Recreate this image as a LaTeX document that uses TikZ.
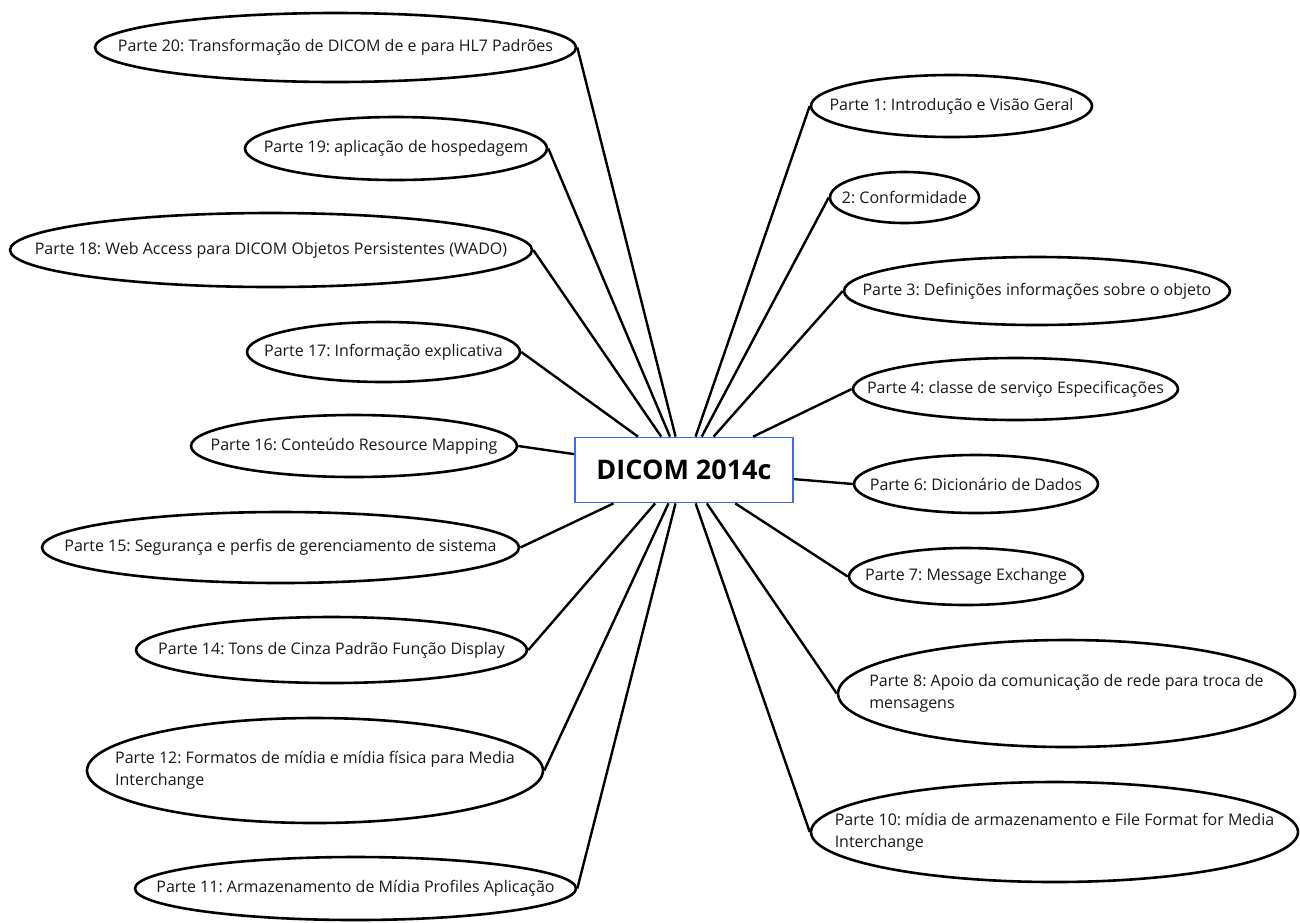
\documentclass[tikz,border=0pt]{standalone}
\usepackage{fontspec}
\setmainfont{Open Sans}
\usetikzlibrary{shapes.geometric}
\definecolor{hubblue}{HTML}{3D6BF5}
\frenchspacing

% one topic: ellipse outline plus its label centred inside it
\newcommand{\topicnode}[7]{%
  \node[topic, minimum width=#4, minimum height=#5] (#1) at (#2,#3) {};
  \node[itemtext] (#6) at (#1.center) {#7};}

\begin{document}
\begin{tikzpicture}[x=1pt,y=-1pt,
  topic/.style={ellipse, draw=black, line width=2.6pt, fill=white, inner sep=0pt},
  itemtext/.style={font=\fontsize{16}{22}\selectfont, align=left, inner sep=0pt, text=black!90},
  link/.style={draw=black, line width=2.4pt},
  hub/.style={draw=hubblue, line width=1.8pt, fill=white, minimum width=218pt,
              minimum height=65pt, inner sep=0pt, font=\fontsize{27}{30}\selectfont\bfseries}]
\useasboundingbox (0,0) rectangle (1300,922);

% centre
\node[hub] (c) at (684,470) {DICOM 2014c};

% left column
\topicnode{e20}{335.5}{47.5}{481}{69}{t20}{Parte 20: Transformação de DICOM de e para HL7 Padrões}
\topicnode{e19}{396}{148.5}{302}{63}{t19}{Parte 19: aplicação de hospedagem}
\topicnode{e18}{271}{250}{522}{74}{t18}{Parte 18: Web Access para DICOM Objetos Persistentes (WADO)}
\topicnode{e17}{383.5}{352}{273}{60}{t17}{Parte 17: Informação explicativa}
\topicnode{e16}{354}{446}{326}{62}{t16}{Parte 16: Conteúdo Resource Mapping}
\topicnode{e15}{280.5}{547.5}{477}{71}{t15}{Parte 15: Segurança e perfis de gerenciamento de sistema}
\topicnode{e14}{331.5}{650}{391}{66}{t14}{Parte 14: Tons de Cinza Padrão Função Display}
\topicnode{e12}{315}{770.5}{456}{105}{t12}{Parte 12: Formatos de mídia e mídia física para Media\\Interchange}
\topicnode{e11}{355.5}{888.5}{441}{63}{t11}{Parte 11: Armazenamento de Mídia Profiles Aplicação}

% right column
\topicnode{e1}{951.5}{106}{281}{62}{t1}{Parte 1: Introdução e Visão Geral}
\topicnode{e2}{904.5}{197.5}{149}{51}{t2}{2: Conformidade}
\topicnode{e3}{1037}{291}{386}{68}{t3}{Parte 3: Definições informações sobre o objeto}
\topicnode{e4}{1015.5}{389}{325}{62}{t4}{Parte 4: classe de serviço Especificações}
\topicnode{e6}{976}{484}{244}{58}{t6}{Parte 6: Dicionário de Dados}
\topicnode{e7}{966}{576.5}{234}{57}{t7}{Parte 7: Message Exchange}
\topicnode{e8}{1066.5}{693.5}{457}{107}{t8}{Parte 8: Apoio da comunicação de rede para troca de\\mensagens}
\topicnode{e10}{1054.5}{832}{487}{100}{t10}{Parte 10: mídia de armazenamento e File Format for Media\\Interchange}

% spokes
\foreach \n in {e20,e19,e18,e17,e16,e15,e14,e12,e11}
  \draw[link] (c) -- (\n.east);
\foreach \n in {e1,e2,e3,e4,e6,e7,e8,e10}
  \draw[link] (c) -- (\n.west);
\end{tikzpicture}
\end{document}
